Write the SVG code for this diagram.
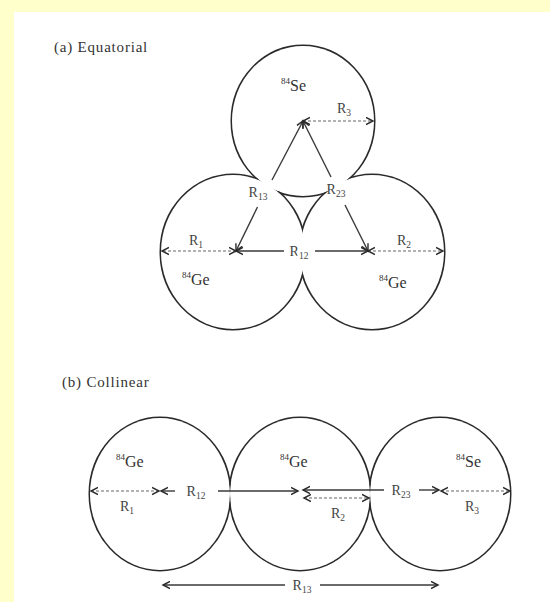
<svg xmlns="http://www.w3.org/2000/svg" width="550" height="602" viewBox="0 0 550 602">
<style>
.t{font-family:"Liberation Serif","Times New Roman",serif;fill:#333}
.title{font-size:15px;letter-spacing:0.8px}
.el{font-size:16px}
.sup{font-size:9px}
.rl{font-size:14px;text-anchor:middle;fill:#444}
.sub{font-size:9.5px}
.ring{fill:none;stroke:#2a2a2a;stroke-width:3}
.solid{fill:none;stroke:#3a3a3a;stroke-width:1.4}
.dash{fill:none;stroke:#666;stroke-width:1.2;stroke-dasharray:3 2}
.ms{marker-start:url(#hd)}
.me{marker-end:url(#hd)}
</style>
<defs>
<marker id="hd" markerUnits="userSpaceOnUse" markerWidth="10" markerHeight="10" refX="7" refY="4" orient="auto-start-reverse" viewBox="0 0 10 8">
<path d="M0,0.5 L7,4 L0,7.5" fill="none" stroke="#2a2a2a" stroke-width="1.4"/>
</marker>
<mask id="mA" maskUnits="userSpaceOnUse" x="0" y="0" width="550" height="602">
<rect width="550" height="602" fill="#fff"/>
<ellipse cx="303" cy="121" rx="71" ry="75" fill="#000"/>
<ellipse cx="233" cy="252" rx="72" ry="77" fill="#000"/>
<ellipse cx="372" cy="252" rx="72" ry="77" fill="#000"/>
</mask>
<mask id="mB" maskUnits="userSpaceOnUse" x="0" y="0" width="550" height="602">
<rect width="550" height="602" fill="#fff"/>
<ellipse cx="160" cy="494" rx="70" ry="76" fill="#000"/>
<ellipse cx="300" cy="494" rx="70" ry="76" fill="#000"/>
<ellipse cx="440" cy="494" rx="70" ry="76" fill="#000"/>
</mask>
</defs>
<rect width="550" height="602" fill="#fff"/>
<rect width="550" height="12" fill="#ffffcc"/>
<rect width="14" height="602" fill="#ffffcc"/>

<text class="t title" x="54" y="52">(a) Equatorial</text>
<text class="t title" x="62" y="387">(b) Collinear</text>

<!-- (a) nodes -->
<g id="a-se">
<ellipse class="ring" cx="303" cy="121" rx="71" ry="75" mask="url(#mA)"/>
<text class="t" x="281" y="91"><tspan class="sup" dy="-7">84</tspan><tspan class="el" dy="7">Se</tspan></text>
</g>
<g id="a-ge1">
<ellipse class="ring" cx="233" cy="252" rx="72" ry="77" mask="url(#mA)"/>
<text class="t" x="182" y="285"><tspan class="sup" dy="-7">84</tspan><tspan class="el" dy="7">Ge</tspan></text>
</g>
<g id="a-ge2">
<ellipse class="ring" cx="372" cy="252" rx="72" ry="77" mask="url(#mA)"/>
<text class="t" x="379" y="288"><tspan class="sup" dy="-7">84</tspan><tspan class="el" dy="7">Ge</tspan></text>
</g>

<!-- (b) nodes -->
<g id="b-ge1">
<ellipse class="ring" cx="160" cy="494" rx="70" ry="76" mask="url(#mB)"/>
<text class="t" x="116" y="467"><tspan class="sup" dy="-7">84</tspan><tspan class="el" dy="7">Ge</tspan></text>
</g>
<g id="b-ge2">
<ellipse class="ring" cx="300" cy="494" rx="70" ry="76" mask="url(#mB)"/>
<text class="t" x="280" y="467"><tspan class="sup" dy="-7">84</tspan><tspan class="el" dy="7">Ge</tspan></text>
</g>
<g id="b-se">
<ellipse class="ring" cx="440" cy="494" rx="70" ry="76" mask="url(#mB)"/>
<text class="t" x="456" y="467"><tspan class="sup" dy="-7">84</tspan><tspan class="el" dy="7">Se</tspan></text>
</g>

<g id="connectors">
<!-- (a) -->
<line class="dash ms me" x1="303" y1="121" x2="373" y2="121"/>
<text class="t rl" x="344" y="113">R<tspan class="sub" dy="3">3</tspan></text>
<line class="dash ms me" x1="236" y1="251" x2="162" y2="251"/>
<text class="t rl" x="196" y="245">R<tspan class="sub" dy="3">1</tspan></text>
<line class="dash ms me" x1="368" y1="251" x2="443" y2="251"/>
<text class="t rl" x="404" y="245">R<tspan class="sub" dy="3">2</tspan></text>
<line class="solid ms" x1="236" y1="251" x2="284" y2="251"/>
<line class="solid me" x1="315" y1="251" x2="368" y2="251"/>
<text class="t rl" x="299" y="256" stroke="#fff" stroke-width="5" paint-order="stroke">R<tspan class="sub" dy="3">12</tspan></text>
<line class="solid ms" x1="303" y1="121" x2="272" y2="180"/>
<line class="solid me" x1="257.5" y1="207" x2="236" y2="251"/>
<text class="t rl" x="258" y="197">R<tspan class="sub" dy="3">13</tspan></text>
<line class="solid ms" x1="303" y1="121" x2="331" y2="177"/>
<line class="solid me" x1="345" y1="205" x2="368" y2="251"/>
<text class="t rl" x="336" y="194">R<tspan class="sub" dy="3">23</tspan></text>

<!-- (b) -->
<line class="dash ms me" x1="159" y1="491" x2="91" y2="491"/>
<text class="t rl" x="127" y="511">R<tspan class="sub" dy="3">1</tspan></text>
<line class="solid ms" x1="161" y1="491" x2="175" y2="491"/>
<line class="solid me" x1="218" y1="491" x2="298" y2="491"/>
<text class="t rl" x="196" y="496">R<tspan class="sub" dy="3">12</tspan></text>
<line class="solid ms" x1="303" y1="490" x2="384" y2="490"/>
<line class="solid me" x1="419" y1="490" x2="439" y2="490"/>
<text class="t rl" x="401" y="495">R<tspan class="sub" dy="3">23</tspan></text>
<line class="dash ms me" x1="304" y1="498" x2="369" y2="498"/>
<text class="t rl" x="338" y="518">R<tspan class="sub" dy="3">2</tspan></text>
<line class="dash ms me" x1="441" y1="491" x2="510" y2="491"/>
<text class="t rl" x="472" y="511">R<tspan class="sub" dy="3">3</tspan></text>
<line class="solid ms" x1="163" y1="585" x2="285" y2="585"/>
<line class="solid me" x1="320" y1="585" x2="438" y2="585"/>
<text class="t rl" x="302" y="590">R<tspan class="sub" dy="3">13</tspan></text>
</g>
</svg>
